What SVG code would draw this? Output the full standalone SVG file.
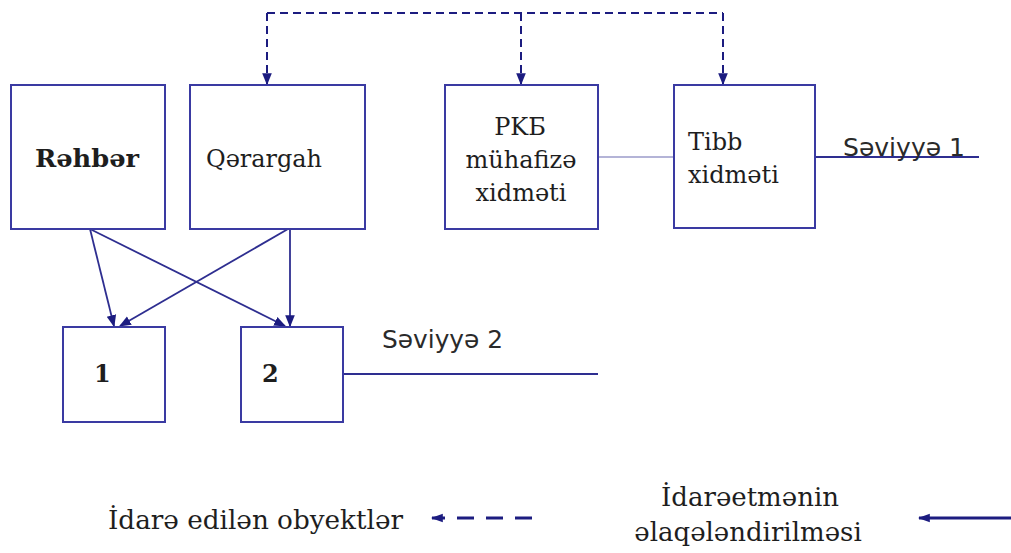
<svg xmlns="http://www.w3.org/2000/svg" width="1011" height="553" viewBox="0 0 1011 553">
  <defs>
    <marker id="head" viewBox="0 0 10 10" refX="9" refY="5" markerWidth="12" markerHeight="12" orient="auto" markerUnits="userSpaceOnUse">
      <path d="M0,1 L10,5 L0,9 Z" fill="#1c1c80"/>
    </marker>
    <marker id="headLegend" viewBox="0 0 10 10" refX="9" refY="5" markerWidth="12" markerHeight="12" orient="auto" markerUnits="userSpaceOnUse">
      <path d="M0,1.5 L10,5 L0,8.5 Z" fill="#1c1c80"/>
    </marker>
  </defs>
  <style>
    .box { fill: #ffffff; stroke: #3a3aa2; stroke-width: 2; }
    .lbl { font-family: "DejaVu Serif", "Liberation Serif", serif; font-size: 24px; fill: #1e1e1e; }
    .sans { font-family: "DejaVu Sans", "Liberation Sans", sans-serif; font-size: 24px; fill: #2a2a2a; }
    .leg { font-family: "DejaVu Serif", "Liberation Serif", serif; font-size: 26px; fill: #1e1e1e; }
    .dash { fill: none; stroke: #1c1c80; stroke-width: 2; stroke-dasharray: 8 5; }
    .solid { fill: none; stroke: #2e2e90; stroke-width: 1.8; }
    .thin { fill: none; stroke: #6a6ab0; stroke-width: 1.2; }
  </style>
  <rect width="1011" height="553" fill="#ffffff"/>

  <!-- connectors -->
  <g id="connectors">
    <!-- dashed control bus across the top -->
    <path class="dash" d="M267,13 H723"/>
    <path class="dash" d="M267,13 V84" marker-end="url(#head)"/>
    <path class="dash" d="M521,13 V84" marker-end="url(#head)"/>
    <path class="dash" d="M723,13 V84" marker-end="url(#head)"/>
    <!-- links from level 1 to level 2 -->
    <path class="solid" d="M90,229 L114,326" marker-end="url(#head)"/>
    <path class="solid" d="M90,229 L285,326" marker-end="url(#head)"/>
    <path class="solid" d="M288,229 L120,326" marker-end="url(#head)"/>
    <path class="solid" d="M290,229 L290,326" marker-end="url(#head)"/>
    <!-- horizontal links -->
    <path class="thin" d="M598,157 H674"/>
    <path class="solid" d="M802,157 H979"/>
    <path class="solid" d="M343,374 H598"/>
  </g>

  <g id="node-rehber">
    <rect class="box" x="11" y="85" width="154" height="144"/>
    <text class="lbl" x="35" y="167" font-weight="bold" textLength="104" lengthAdjust="spacingAndGlyphs">Rəhbər</text>
  </g>
  <g id="node-qerargah">
    <rect class="box" x="190" y="85" width="175" height="144"/>
    <text class="lbl" x="206" y="167" textLength="116" lengthAdjust="spacingAndGlyphs">Qərargah</text>
  </g>
  <g id="node-pkb">
    <rect class="box" x="445" y="85" width="153" height="144"/>
    <text class="lbl" x="520" y="135" text-anchor="middle">PKБ</text>
    <text class="lbl" x="521" y="168" text-anchor="middle">mühafizə</text>
    <text class="lbl" x="521" y="201" text-anchor="middle">xidməti</text>
  </g>
  <g id="node-tibb">
    <rect class="box" x="674" y="85" width="141" height="143"/>
    <text class="lbl" x="688" y="150">Tibb</text>
    <text class="lbl" x="688" y="183">xidməti</text>
  </g>
  <g id="node-1">
    <rect class="box" x="63" y="327" width="102" height="95"/>
    <text class="lbl" x="94" y="382" font-weight="bold">1</text>
  </g>
  <g id="node-2">
    <rect class="box" x="241" y="327" width="102" height="95"/>
    <text class="lbl" x="262" y="382" font-weight="bold">2</text>
  </g>

  <g id="levels">
    <text class="sans" x="843" y="156" textLength="122" lengthAdjust="spacingAndGlyphs">Səviyyə 1</text>
    <text class="sans" x="382" y="348" textLength="121" lengthAdjust="spacingAndGlyphs">Səviyyə 2</text>
  </g>

  <g id="legend">
    <text class="leg" x="108" y="529" textLength="295" lengthAdjust="spacingAndGlyphs">İdarə edilən obyektlər</text>
    <path d="M532,518 H432" fill="none" stroke="#1c1c80" stroke-width="3" stroke-dasharray="17 12" marker-end="url(#headLegend)"/>
    <text class="leg" x="750" y="506" text-anchor="middle">İdarəetmənin</text>
    <text class="leg" x="748" y="541" text-anchor="middle">əlaqələndirilməsi</text>
    <path d="M1011,518 H919" fill="none" stroke="#1c1c80" stroke-width="3" marker-end="url(#headLegend)"/>
  </g>
</svg>
